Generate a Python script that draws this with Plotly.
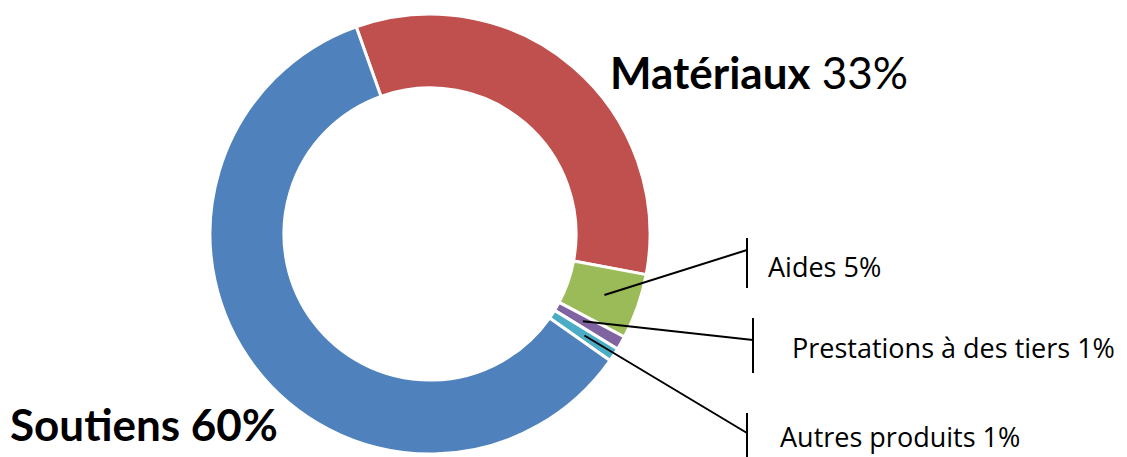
import math
import plotly.graph_objects as go

# ---- data ----
categories = ["Matériaux", "Aides", "Prestations à des tiers", "Autres produits", "Soutiens"]
values = [33.4, 4.8, 1.0, 1.0, 59.8]
label_pct = ["33%", "5%", "1%", "1%", "60%"]
colors = ["#C0504D", "#9BBB59", "#8064A2", "#4BACC6", "#4F81BD"]

W, H = 1127, 457
CX, CY, R = 430, 234, 220
HOLE = 0.664
ROT = -19.6

fig = go.Figure(go.Pie(
    labels=categories,
    values=values,
    sort=False,
    direction="clockwise",
    rotation=ROT,
    hole=HOLE,
    marker=dict(colors=colors, line=dict(color="white", width=3)),
    textinfo="none",
    hoverinfo="label+percent",
    showlegend=False,
    domain=dict(x=[(CX - R) / W, (CX + R) / W], y=[(H - CY - R) / H, (H - CY + R) / H]),
))

def px(x):
    return x / W

def py(y):
    return 1 - y / H

BIG_FONT = "Lato, 'Noto Sans', sans-serif"
SMALL_FONT = "'Open Sans', 'Noto Sans', sans-serif"

# big labels
fig.add_annotation(x=px(608), y=py(72), xref="paper", yref="paper", xanchor="left", yanchor="middle",
                   text=f"<b>{categories[0]}</b> {label_pct[0]}", showarrow=False,
                   font=dict(family=BIG_FONT, size=44, color="black"))
fig.add_annotation(x=px(8), y=py(424), xref="paper", yref="paper", xanchor="left", yanchor="middle",
                   text=f"<b>{categories[4]} {label_pct[4]}</b>", showarrow=False,
                   font=dict(family=BIG_FONT, size=44, color="black"))

# small labels with leader lines
total = sum(values)
starts = []
acc = ROT
for v in values:
    starts.append(acc)
    acc += v / total * 360

small = [
    # idx, radius fraction for line start, bar x, bar y0, bar y1, line end y, text x, text y
    (1, 0.84, 747, 238, 288, 250, 766, 266),
    (2, 0.80, 753, 318, 373, 340, 790, 347),
    (3, 0.84, 747, 413, 462, 433, 778, 436),
]
for idx, rf, bx, by0, by1, ly, tx, ty in small:
    mid = math.radians(starts[idx] + values[idx] / total * 180)
    sx = CX + rf * R * math.sin(mid)
    sy = CY - rf * R * math.cos(mid)
    fig.add_shape(type="line", xref="paper", yref="paper", x0=px(sx), y0=py(sy), x1=px(bx), y1=py(ly),
                  line=dict(color="black", width=2))
    fig.add_shape(type="line", xref="paper", yref="paper", x0=px(bx), y0=py(by0), x1=px(bx), y1=py(by1),
                  line=dict(color="black", width=2))
    fig.add_annotation(x=px(tx), y=py(ty), xref="paper", yref="paper", xanchor="left", yanchor="middle",
                       text=f"{categories[idx]} {label_pct[idx]}", showarrow=False,
                       font=dict(family=SMALL_FONT, size=27, color="black"))

fig.update_layout(
    width=W, height=H,
    margin=dict(l=0, r=0, t=0, b=0),
    paper_bgcolor="white",
    plot_bgcolor="white",
)

fig.write_html("out.html", config={"displayModeBar": False},
               post_script="document.body.style.margin='0';document.body.style.overflow='hidden';")
